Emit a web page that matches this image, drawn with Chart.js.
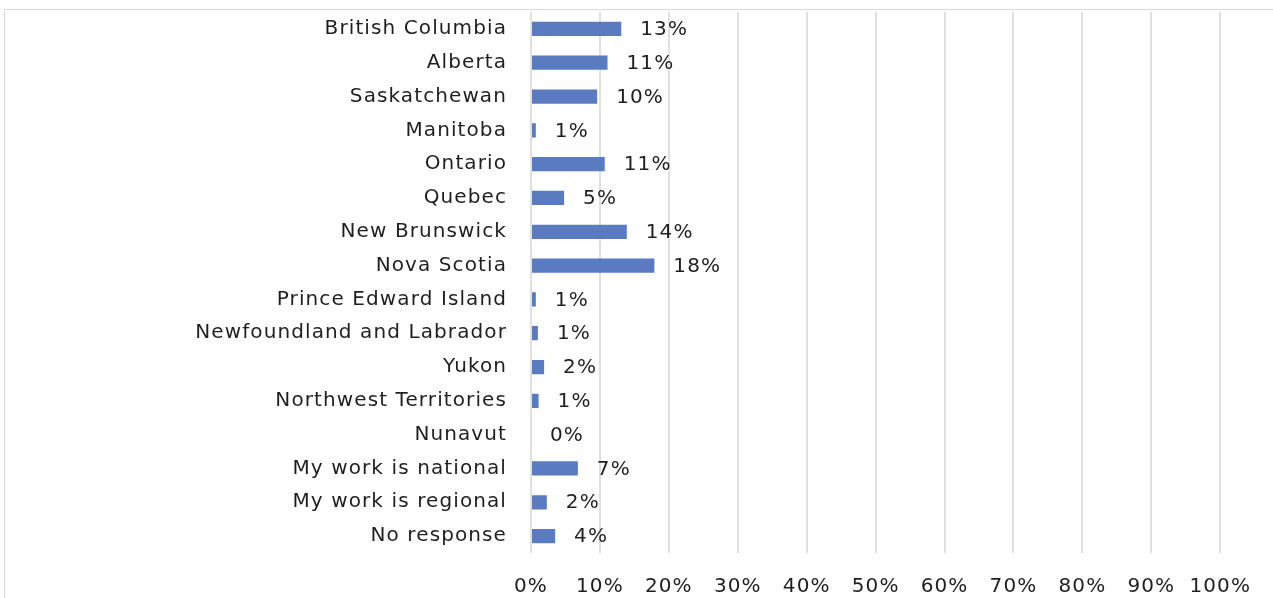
<!DOCTYPE html>
<html>
<head>
<meta charset="utf-8">
<script src="https://cdn.jsdelivr.net/npm/chart.js@4/dist/chart.umd.min.js"></script>
<style>
  html, body { margin: 0; padding: 0; background: #fff; overflow: hidden; }
  #wrap { position: relative; width: 1273px; height: 598px; overflow: hidden; }
  #frame { position: absolute; left: 4px; top: 9px; width: 1300px; height: 620px; border: 1px solid #d9d9d9; box-sizing: border-box; }
  canvas { position: absolute; left: 0; top: -24px; }
</style>
</head>
<body>
<div id="wrap">
  <div id="frame"></div>
  <canvas id="regionChart" width="1273" height="622"></canvas>
</div>
<script>
// Valores (porcentaje de respuestas por región)
const regiones = [
    'British Columbia', 'Alberta', 'Saskatchewan', 'Manitoba', 'Ontario', 'Quebec',
    'New Brunswick', 'Nova Scotia', 'Prince Edward Island', 'Newfoundland and Labrador',
    'Yukon', 'Northwest Territories', 'Nunavut', 'My work is national',
    'My work is regional', 'No response'
];
const porcentajes = [13.1, 11.1, 9.6, 0.7, 10.7, 4.8, 13.9, 17.9, 0.7, 1.0, 1.9, 1.1, 0, 6.8, 2.3, 3.5];
const ticksX = ['0%', '10%', '20%', '30%', '40%', '50%', '60%', '70%', '80%', '90%', '100%'];

const fuente = "'Century Gothic', 'URW Gothic', 'DejaVu Sans', sans-serif";
const colorTexto = '#1f1f1f';
const espaciado = '1.1px';

// espaciado de letras para parecerse a la fuente ancha del original
const espaciadoPlugin = {
    id: 'espaciado',
    beforeLayout(chart) { chart.ctx.letterSpacing = espaciado; },
    beforeDraw(chart) { chart.ctx.letterSpacing = espaciado; }
};

// etiqueta de valor a la derecha de cada barra
const etiquetasPlugin = {
    id: 'etiquetas',
    afterDatasetsDraw(chart) {
        const ctx = chart.ctx;
        const meta = chart.getDatasetMeta(0);
        ctx.save();
        ctx.letterSpacing = espaciado;
        ctx.font = '20px ' + fuente;
        ctx.fillStyle = colorTexto;
        ctx.textAlign = 'left';
        ctx.textBaseline = 'middle';
        meta.data.forEach((bar, i) => {
            ctx.fillText(Math.round(porcentajes[i]) + '%', bar.x + 19, bar.y + 1);
        });
        ctx.restore();
    }
};

const ctx = document.getElementById('regionChart').getContext('2d');
const chart = new Chart(ctx, {
    type: 'bar',
    data: {
        labels: regiones,
        datasets: [{
            data: porcentajes,
            backgroundColor: '#5b7bc0',
            borderWidth: 0,
            barPercentage: 0.42,
            categoryPercentage: 1
        }]
    },
    options: {
        indexAxis: 'y',
        responsive: false,
        animation: false,
        layout: { padding: { top: -16, right: 50, bottom: 0, left: 0 } },
        plugins: { legend: { display: false }, tooltip: { enabled: false } },
        scales: {
            x: {
                min: 0,
                max: 100,
                grid: { color: '#e0e0e0', lineWidth: 2, drawTicks: false },
                border: { display: false },
                ticks: {
                    stepSize: 10,
                    padding: 22,
                    color: colorTexto,
                    font: { size: 20, family: fuente },
                    callback: (v, i) => ticksX[i]
                },
                afterFit(scale) { scale.height = 45; }
            },
            y: {
                grid: { display: false, drawTicks: false },
                border: { display: false },
                ticks: {
                    padding: 24,
                    color: colorTexto,
                    font: { size: 20, family: fuente }
                },
                afterFit(scale) { scale.width = 531; }
            }
        }
    },
    plugins: [espaciadoPlugin, etiquetasPlugin]
});
</script>
</body>
</html>
